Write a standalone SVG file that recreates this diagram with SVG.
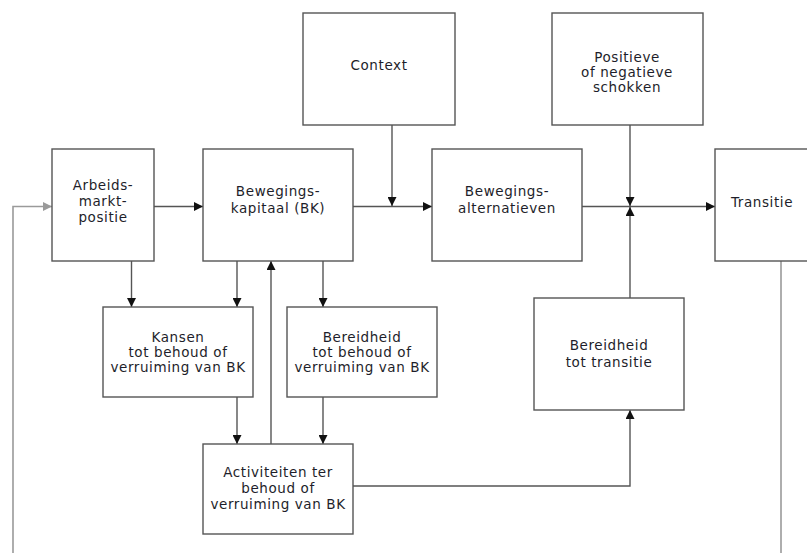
<svg xmlns="http://www.w3.org/2000/svg" width="807" height="553" viewBox="0 0 807 553">
<style>
.box{fill:#fff;stroke:#555;stroke-width:1.4}
.t{font-family:"DejaVu Sans",sans-serif;font-size:13.5px;letter-spacing:0.6px;fill:#1e1e2a;text-anchor:middle}
.c{fill:none;stroke:#555;stroke-width:1.4}
.g{fill:none;stroke:#9a9a9a;stroke-width:1.6}
</style>
<defs>
<marker id="a" viewBox="0 0 10 10" refX="10" refY="5" markerWidth="9" markerHeight="9" markerUnits="userSpaceOnUse" orient="auto"><path d="M0,0L10,5L0,10z" fill="#111"/></marker>
<marker id="ag" viewBox="0 0 10 10" refX="10" refY="5" markerWidth="9" markerHeight="9" markerUnits="userSpaceOnUse" orient="auto"><path d="M0,0L10,5L0,10z" fill="#9a9a9a"/></marker>
</defs>
<g id="connectors">
<path class="g" d="M13,553V206.5H52" marker-end="url(#ag)"/>
<path class="g" d="M781,261V553"/>
<path class="c" d="M154,206.5H203" marker-end="url(#a)"/>
<path class="c" d="M353,206.5H432" marker-end="url(#a)"/>
<path class="c" d="M392,125V206" marker-end="url(#a)"/>
<path class="c" d="M582,206.5H715" marker-end="url(#a)"/>
<path class="c" d="M630,125V206" marker-end="url(#a)"/>
<path class="c" d="M630,298V207" marker-end="url(#a)"/>
<path class="c" d="M131.5,261V307" marker-end="url(#a)"/>
<path class="c" d="M237,261V307" marker-end="url(#a)"/>
<path class="c" d="M323,261V307" marker-end="url(#a)"/>
<path class="c" d="M271,444V261" marker-end="url(#a)"/>
<path class="c" d="M237,397V444" marker-end="url(#a)"/>
<path class="c" d="M323,397V444" marker-end="url(#a)"/>
<path class="c" d="M353,486H630V410" marker-end="url(#a)"/>
</g>
<g id="arbeidsmarktpositie"><rect class="box" x="52" y="149" width="102" height="112"/>
<text class="t" x="103" y="190">Arbeids-</text><text class="t" x="103" y="206">markt-</text><text class="t" x="103" y="222">positie</text></g>
<g id="bewegingskapitaal"><rect class="box" x="203" y="149" width="150" height="112"/>
<text class="t" x="278" y="196">Bewegings-</text><text class="t" x="278" y="213">kapitaal (BK)</text></g>
<g id="context"><rect class="box" x="303" y="13" width="152" height="112"/>
<text class="t" x="379" y="70">Context</text></g>
<g id="schokken"><rect class="box" x="552" y="13" width="151" height="112"/>
<text class="t" x="627" y="62">Positieve</text><text class="t" x="627" y="77">of negatieve</text><text class="t" x="627" y="92">schokken</text></g>
<g id="bewegingsalternatieven"><rect class="box" x="432" y="149" width="150" height="112"/>
<text class="t" x="507" y="196">Bewegings-</text><text class="t" x="507" y="213">alternatieven</text></g>
<g id="transitie"><rect class="box" x="715" y="149" width="100" height="112"/>
<text class="t" x="762" y="207">Transitie</text></g>
<g id="kansen"><rect class="box" x="103" y="307" width="150" height="90"/>
<text class="t" x="178" y="342">Kansen</text><text class="t" x="178" y="357">tot behoud of</text><text class="t" x="178" y="372">verruiming van BK</text></g>
<g id="bereidheid-bk"><rect class="box" x="287" y="307" width="150" height="90"/>
<text class="t" x="362" y="342">Bereidheid</text><text class="t" x="362" y="357">tot behoud of</text><text class="t" x="362" y="372">verruiming van BK</text></g>
<g id="bereidheid-transitie"><rect class="box" x="534" y="298" width="150" height="112"/>
<text class="t" x="609" y="350">Bereidheid</text><text class="t" x="609" y="367">tot transitie</text></g>
<g id="activiteiten"><rect class="box" x="203" y="444" width="150" height="90"/>
<text class="t" x="278" y="477">Activiteiten ter</text><text class="t" x="278" y="493">behoud of</text><text class="t" x="278" y="509">verruiming van BK</text></g>
</svg>
